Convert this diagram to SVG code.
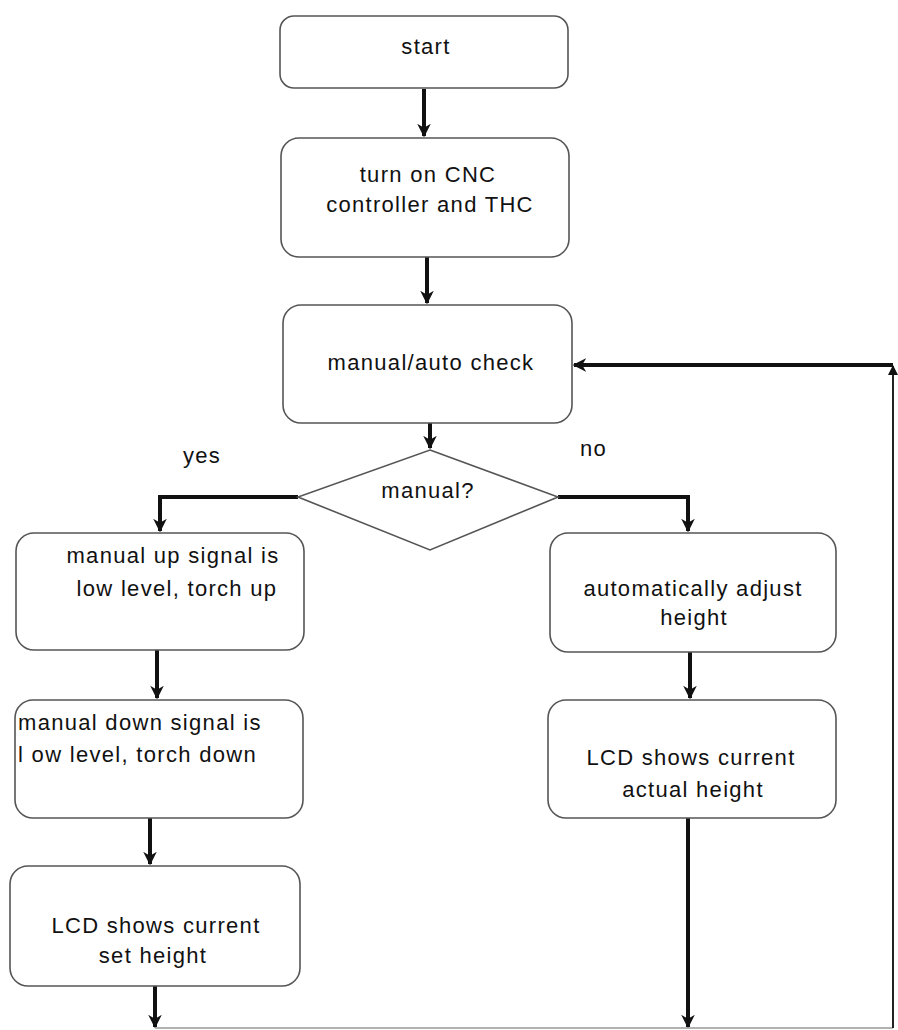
<svg xmlns="http://www.w3.org/2000/svg" width="898" height="1030" viewBox="0 0 898 1030">
<style>
.box{fill:#fff;stroke:#555;stroke-width:1.6}
.t{font-family:"Liberation Sans",Arial,sans-serif;font-size:22px;letter-spacing:1.3px;fill:#111}
.c{text-anchor:middle}
.w{fill:none;stroke:#111;stroke-width:4}
.thin{fill:none;stroke:#222;stroke-width:2}
.bot{fill:none;stroke:#999;stroke-width:1.5}
</style>
<defs>
<marker id="ah" viewBox="0 0 10 10" refX="9" refY="5" markerWidth="3.4" markerHeight="3.4" orient="auto" markerUnits="strokeWidth">
<path d="M0,0 L10,5 L0,10 L3,5 z" fill="#111"/>
</marker>
<marker id="ahs" viewBox="0 0 10 10" refX="9" refY="5" markerWidth="5" markerHeight="5" orient="auto" markerUnits="strokeWidth">
<path d="M0,0 L10,5 L0,10 z" fill="#111"/>
</marker>
</defs>
<rect width="898" height="1030" fill="#fff"/>
<g id="connectors">
<path class="w" d="M424,89 V136" marker-end="url(#ah)"/>
<path class="w" d="M427,257 V303" marker-end="url(#ah)"/>
<path class="w" d="M430,423 V448" marker-end="url(#ah)"/>
<path class="w" d="M298,497 H160 V531" marker-end="url(#ah)"/>
<path class="w" d="M558,497 H688 V531" marker-end="url(#ah)"/>
<path class="w" d="M157,650 V698" marker-end="url(#ah)"/>
<path class="w" d="M690,652 V698" marker-end="url(#ah)"/>
<path class="w" d="M150,818 V864" marker-end="url(#ah)"/>
<path class="w" d="M155,986 V1027" marker-end="url(#ah)"/>
<path class="w" d="M688,818 V1027" marker-end="url(#ah)"/>
<path class="bot" d="M155,1028 H893"/>
<path class="thin" d="M893,1028 V366" marker-end="url(#ahs)"/>
<path class="w" d="M893,365 H574" marker-end="url(#ah)"/>
</g>
<g id="start">
<rect class="box" x="280" y="16" width="288" height="72" rx="14"/>
<text class="t c" x="426" y="54">start</text>
</g>
<g id="turnon">
<rect class="box" x="281" y="138" width="288" height="119" rx="18"/>
<text class="t c" x="428" y="182">turn on CNC</text>
<text class="t c" x="430" y="212">controller and THC</text>
</g>
<g id="check">
<rect class="box" x="283" y="305" width="289" height="118" rx="18"/>
<text class="t c" x="431" y="370">manual/auto check</text>
</g>
<g id="decision">
<polygon class="box" points="430,450 558,497 430,550 298,497"/>
<text class="t c" x="428" y="498">manual?</text>
</g>
<text class="t" x="183" y="463">yes</text>
<text class="t" x="580" y="456">no</text>
<g id="manualup">
<rect class="box" x="16" y="533" width="288" height="117" rx="18"/>
<text class="t c" x="173" y="563">manual up signal is</text>
<text class="t c" x="177" y="596">low level, torch up</text>
</g>
<g id="manualdown">
<rect class="box" x="15" y="700" width="288" height="118" rx="18"/>
<text class="t" x="18" y="730">manual down signal is</text>
<text class="t" x="18" y="762">l ow level, torch down</text>
</g>
<g id="lcdset">
<rect class="box" x="10" y="866" width="290" height="120" rx="18"/>
<text class="t c" x="156" y="933">LCD shows current</text>
<text class="t c" x="153" y="963">set height</text>
</g>
<g id="autoadjust">
<rect class="box" x="550" y="533" width="286" height="119" rx="18"/>
<text class="t c" x="693" y="596">automatically adjust</text>
<text class="t c" x="694" y="625">height</text>
</g>
<g id="lcdactual">
<rect class="box" x="548" y="700" width="288" height="118" rx="18"/>
<text class="t c" x="691" y="765">LCD shows current</text>
<text class="t c" x="693" y="797">actual height</text>
</g>
</svg>
